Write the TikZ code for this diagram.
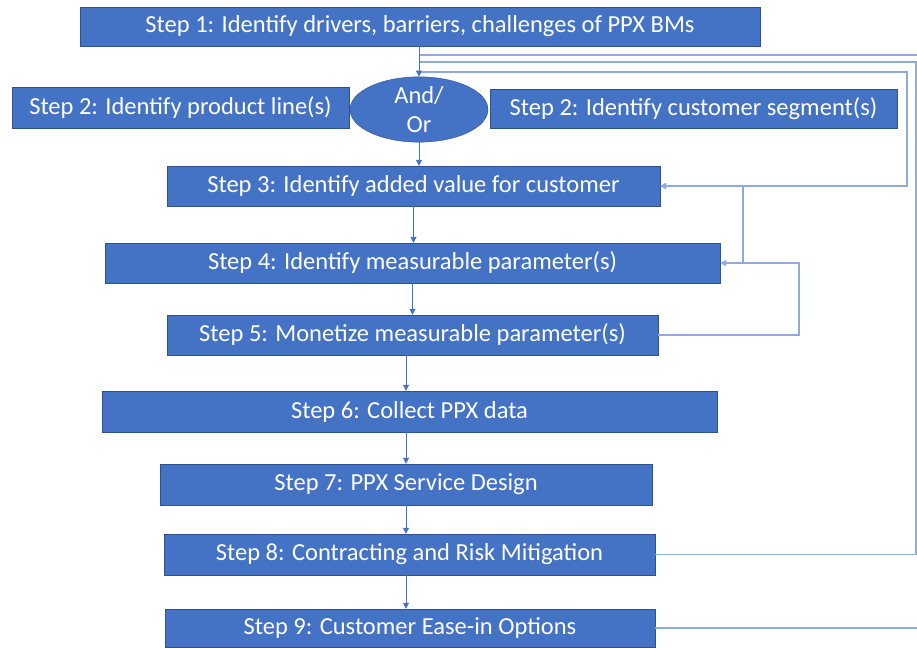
\documentclass[tikz,border=0pt]{standalone}
\usepackage{fontspec}
\setmainfont{Carlito}
\usetikzlibrary{shapes.geometric,arrows.meta,positioning,calc}
\definecolor{officeBlue}{RGB}{68, 114, 196}
\definecolor{officeEdge}{RGB}{47, 82, 143}
\definecolor{loopBlue}{RGB}{143, 170, 220}

\begin{document}
\begin{tikzpicture}[
        x=1pt, y=-1pt,
        stepbox/.style={rectangle, draw=officeEdge, fill=officeBlue, text=white, inner sep=0pt, align=center, font=\fontsize{24.5}{28}\selectfont},
        choice/.style={ellipse, draw=officeEdge, fill=officeBlue, text=white, inner sep=0pt, align=center, font=\fontsize{24.5}{29}\selectfont},
        flow/.style={-{Triangle[length=6pt, width=6pt]}, officeBlue, line width=0.8pt},
        loopline/.style={loopBlue, line width=1.3pt},
    ]
        \clip (0,0) rectangle (917,647);
        \useasboundingbox (0,0) rectangle (917,647);

        % Steps
        \node[stepbox, minimum width=680pt, minimum height=39pt] (s1) at (420,26.5) {Step 1: Identify drivers, barriers, challenges of PPX BMs};
        \node[choice, minimum width=138pt, minimum height=51pt] (andor) at (419,109.5) {And/\\Or};
        \node[stepbox, minimum width=337pt, minimum height=41pt] (s2a) at (180.5,107.5) {Step 2: Identify product line(s)};
        \node[stepbox, minimum width=407pt, minimum height=39pt] (s2b) at (693.5,108.5) {Step 2: Identify customer segment(s)};
        \node[stepbox, minimum width=493pt, minimum height=40pt] (s3) at (413.5,186) {Step 3: Identify added value for customer};
        \node[stepbox, minimum width=615pt, minimum height=40pt] (s4) at (412.5,263) {Step 4: Identify measurable parameter(s)};
        \node[stepbox, minimum width=491pt, minimum height=40pt] (s5) at (412.5,335) {Step 5: Monetize measurable parameter(s)};
        \node[stepbox, minimum width=615pt, minimum height=41pt] (s6) at (409.5,411.5) {Step 6: Collect PPX data};
        \node[stepbox, minimum width=492pt, minimum height=41pt] (s7) at (406,484.5) {Step 7: PPX Service Design};
        \node[stepbox, minimum width=491pt, minimum height=41pt] (s8) at (409.5,554.5) {Step 8: Contracting and Risk Mitigation};
        \node[stepbox, minimum width=490pt, minimum height=38pt] (s9) at (410,628) {Step 9: Customer Ease-in Options};

        % Joints for the loops back
        \coordinate (j9) at (420,55);
        \coordinate (j8) at (420,62);
        \coordinate (j3) at (420,72);
        \coordinate (r9) at (921,55);
        \coordinate (r8) at (916,62);
        \coordinate (r3) at (907,186);
        \coordinate (r5) at (799,263);
        \coordinate (r4) at (743,263);

        % Loops back
        \draw[loopline] (s9.east) -| (r9) -- (j9);
        \draw[loopline] (s8.east) -| (r8) -- (j8);
        \draw[loopline, -{Triangle[length=6pt, width=6pt]}] (j3) -| (r3) -- (s3.east);
        \draw[loopline, -{Triangle[length=6pt, width=6pt]}] (s5.east) -| (r5) -- (s4.east);
        \draw[loopline, -{Triangle[length=6pt, width=6pt]}] (r4) |- (s3.east);

        % Main flow
        \draw[flow] (s1.south -| andor.north) -- (andor.north);
        \draw[flow] (andor.south) -- (andor.south |- s3.north);
        \draw[flow] (s3.south) -- (s3.south |- s4.north);
        \draw[flow] (s4.south) -- (s4.south |- s5.north);
        \draw[flow] (s5.south -| s7.north) -- (s6.north -| s7.north);
        \draw[flow] (s6.south -| s7.north) -- (s7.north);
        \draw[flow] (s7.south) -- (s7.south |- s8.north);
        \draw[flow] (s8.south -| s7.north) -- (s9.north -| s7.north);

\end{tikzpicture}
\end{document}
